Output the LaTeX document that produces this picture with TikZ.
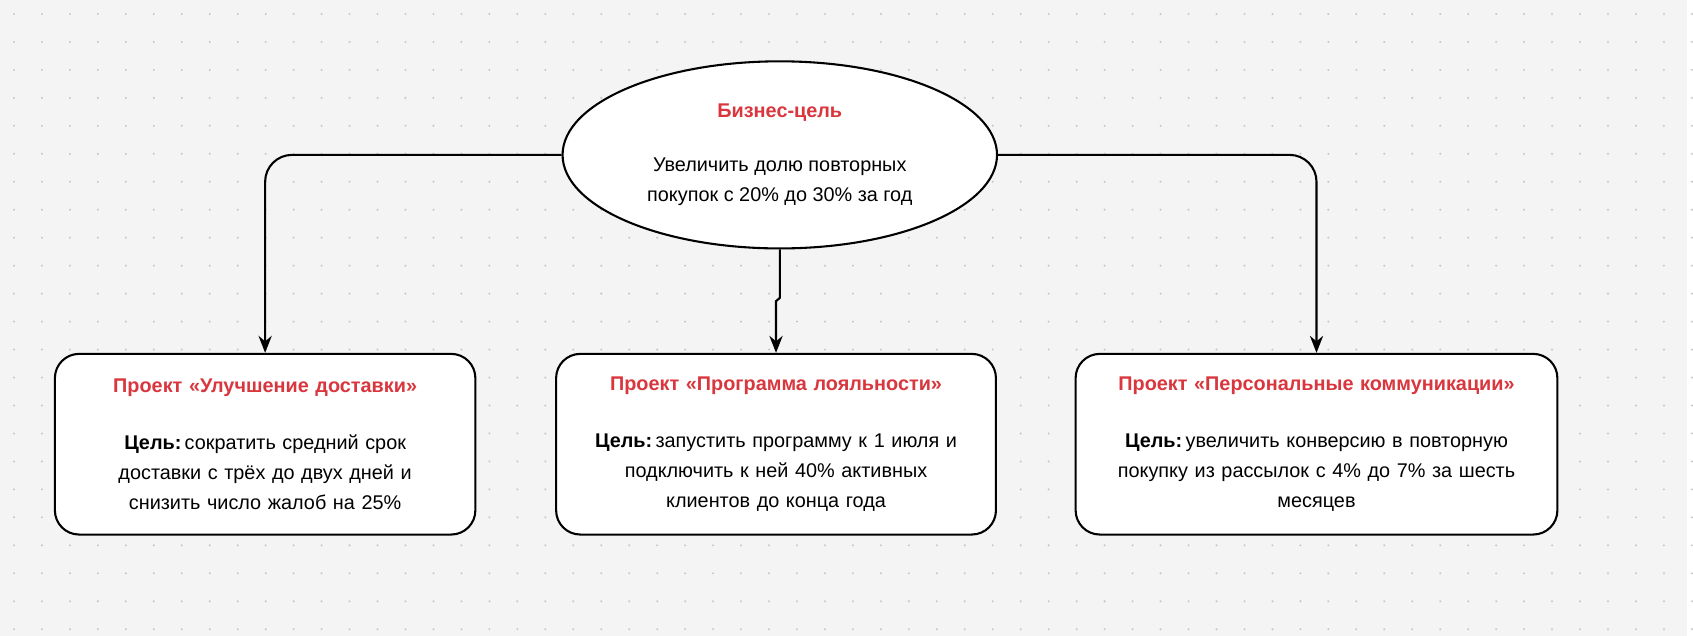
\documentclass[tikz,border=0pt]{standalone}
\usepackage{fontspec}
\setmainfont{Liberation Sans}
\usetikzlibrary{shapes.geometric,positioning,arrows.meta}
\definecolor{goalred}{HTML}{D9363E}
\definecolor{paper}{HTML}{F4F4F4}
\tikzstyle{goal} = [draw, line width=1.1pt, fill=white, ellipse, minimum width=8.08cm, minimum height=3.48cm, align=center, font=\fontsize{10.5}{16}\selectfont]
\tikzstyle{project} = [draw, line width=1.1pt, fill=white, rounded corners=0.45cm, minimum height=3.36cm, align=center, font=\fontsize{10.5}{16}\selectfont]
\tikzstyle{link} = [-{Stealth[length=9pt,width=7pt]}, line width=1.1pt, rounded corners=0.5cm]

\begin{document}
\begin{tikzpicture}[x=0.02cm,y=-0.02cm]
            \fill[paper] (0,0) rectangle (1568,591);
            \foreach \i in {0,...,60} {
              \foreach \j in {0,...,22} {
                \fill[black!22] (13+\i*26,13+\j*26) circle (0.6pt);
              }
            }

            \node[goal](goal) at (725,144) {\textcolor{goalred}{\textbf{Бизнес-цель}}\\[0.45cm] Увеличить долю повторных\\ покупок с 20\% до 30\% за год};

            \node[project, text width=7.2cm, minimum width=7.82cm](delivery) at (246.5,413) {\textcolor{goalred}{\textbf{Проект «Улучшение доставки»}}\\[0.5cm] \textbf{Цель:}\,сократить средний срок\\ доставки с трёх до двух дней и\\ снизить число жалоб на 25\%};
            \node[project, text width=7.6cm, minimum width=8.18cm](loyalty) at (721.5,413) {\textcolor{goalred}{\textbf{Проект «Программа лояльности»}}\\[0.5cm] \textbf{Цель:}\,запустить программу к 1 июля и\\ подключить к ней 40\% активных\\ клиентов до конца года};
            \node[project, text width=8.4cm, minimum width=8.96cm](comms) at (1224,413) {\textcolor{goalred}{\textbf{Проект «Персональные коммуникации»}}\\[0.5cm] \textbf{Цель:}\,увеличить конверсию в повторную\\ покупку из рассылок с 4\% до 7\% за шесть\\ месяцев};

            \draw[link](goal.west) -| (delivery.north);
            \draw[link](goal.east) -| (comms.north);
            \draw[link, rounded corners=0pt](goal.south) -- (725,277) -- (721.5,280) -- (loyalty.north);
\end{tikzpicture}
\end{document}
